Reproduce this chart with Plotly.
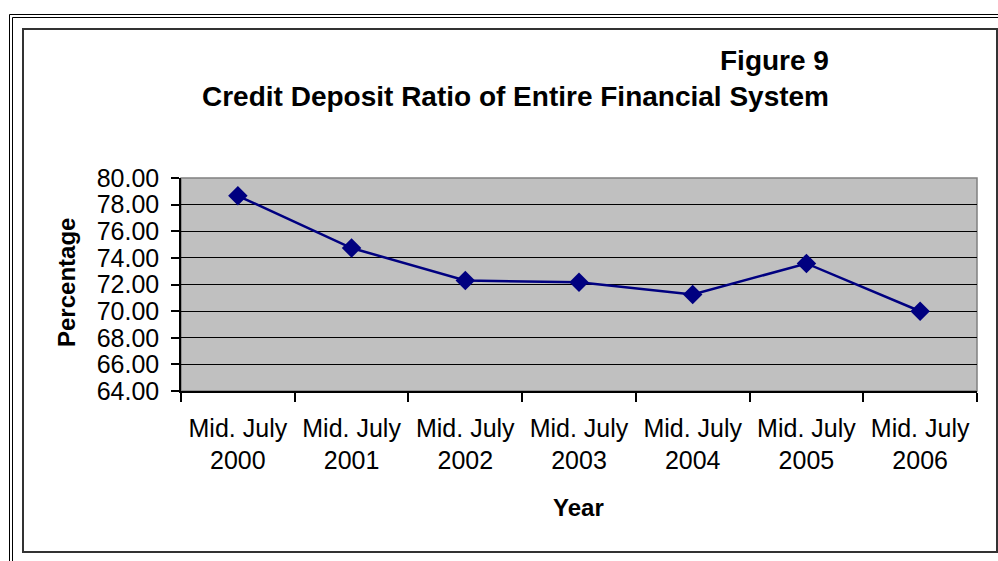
import plotly.graph_objects as go

# Credit deposit ratio (%) of the entire financial system, mid-July each year
years = ["2000", "2001", "2002", "2003", "2004", "2005", "2006"]
period_labels = ["Mid. July<br>" + y for y in years]
credit_deposit_ratio = [78.66, 74.74, 72.30, 72.17, 71.25, 73.58, 69.99]
y_ticks = [64, 66, 68, 70, 72, 74, 76, 78, 80]

W, H = 998, 561
L, R, T, B = 181, 21, 178, 170
PW, PH = W - L - R, H - T - B


def px(x):
    return (x - L) / PW


def py(y):
    return (H - B - y) / PH


FONT = "Liberation Sans, Arial, sans-serif"

fig = go.Figure(
    go.Scatter(
        x=period_labels,
        y=credit_deposit_ratio,
        mode="lines+markers",
        line=dict(color="#000080", width=2.5),
        marker=dict(symbol="diamond", size=15, color="#000080"),
        cliponaxis=False,
    )
)

shapes = [
    # plot area frame
    dict(type="rect", xref="paper", yref="paper", x0=0, x1=1, y0=0, y1=1,
         line=dict(color="#808080", width=1.5), layer="below"),
    # chart border
    dict(type="rect", xref="paper", yref="paper",
         x0=px(23), x1=px(997), y0=py(552), y1=py(29),
         line=dict(color="#333333", width=2)),
    # outer double rule
    dict(type="line", xref="paper", yref="paper", x0=px(9.5), x1=px(9.5),
         y0=py(14.5), y1=py(570), line=dict(color="black", width=1)),
    dict(type="line", xref="paper", yref="paper", x0=px(12.5), x1=px(12.5),
         y0=py(17.5), y1=py(570), line=dict(color="black", width=1)),
    dict(type="line", xref="paper", yref="paper", x0=px(9.5), x1=px(1005),
         y0=py(14.5), y1=py(14.5), line=dict(color="black", width=1)),
    dict(type="line", xref="paper", yref="paper", x0=px(12.5), x1=px(1005),
         y0=py(17.5), y1=py(17.5), line=dict(color="black", width=1)),
]

annotations = [
    dict(text="<b>Figure 9</b>", xref="paper", yref="paper",
         x=px(831), y=py(60), xanchor="right", yanchor="middle",
         showarrow=False, font=dict(family=FONT, size=28, color="black")),
    dict(text="<b>Credit Deposit Ratio of Entire Financial System</b>",
         xref="paper", yref="paper", x=px(831), y=py(96),
         xanchor="right", yanchor="middle", showarrow=False,
         font=dict(family=FONT, size=28, color="black")),
    dict(text="<b>Year</b>", xref="paper", yref="paper",
         x=px(578), y=py(507), xanchor="center", yanchor="middle",
         showarrow=False, font=dict(family=FONT, size=24, color="black")),
    dict(text="<b>Percentage</b>", xref="paper", yref="paper",
         x=px(66), y=py(283), xanchor="center", yanchor="middle",
         textangle=-90, showarrow=False,
         font=dict(family=FONT, size=24, color="black")),
]

fig.update_layout(
    width=W, height=H,
    margin=dict(l=L, r=R, t=T, b=B, pad=0),
    paper_bgcolor="white",
    plot_bgcolor="#C0C0C0",
    showlegend=False,
    font=dict(family=FONT, size=25, color="black"),
    shapes=shapes,
    annotations=annotations,
    xaxis=dict(
        type="category",
        tickson="boundaries",
        ticks="outside", ticklen=9, tickcolor="black", tickwidth=1.5,
        ticklabelstandoff=14,
        showline=True, linecolor="black", linewidth=1.5,
        showgrid=False, zeroline=False,
        tickfont=dict(family=FONT, size=25, color="black"),
        range=[-0.5, 6.5],
    ),
    yaxis=dict(
        range=[64, 80],
        tickvals=y_ticks,
        tickformat=".2f",
        ticks="outside", ticklen=8, tickcolor="black", tickwidth=1.5,
        ticklabelstandoff=7,
        showline=True, linecolor="black", linewidth=1.5,
        showgrid=True, gridcolor="black", gridwidth=1,
        zeroline=False,
        tickfont=dict(family=FONT, size=25, color="black"),
    ),
)

fig.write_html("out.html")
